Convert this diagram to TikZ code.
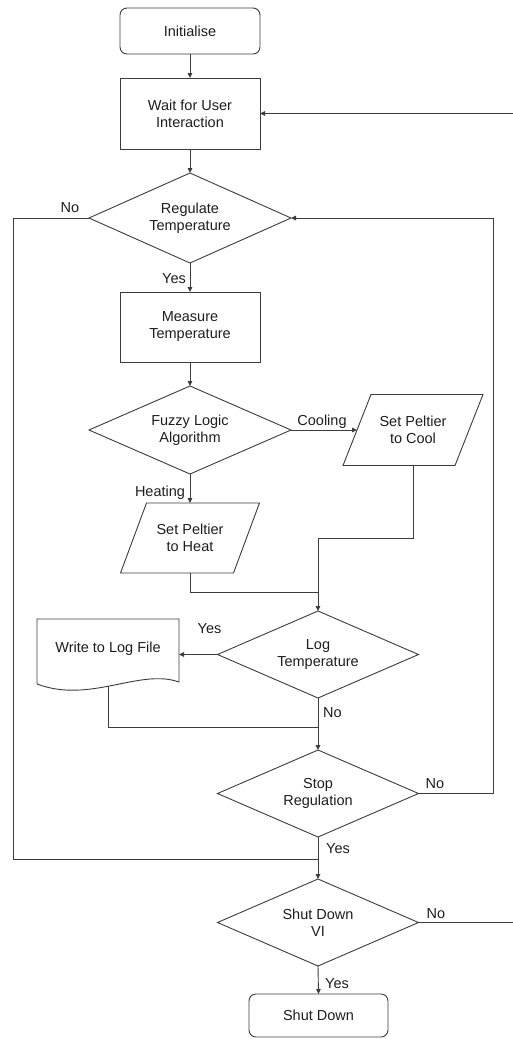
\documentclass[tikz,border=0pt]{standalone}
\usepackage{fontspec}
\setmainfont{Liberation Sans}
\usetikzlibrary{shapes.geometric,arrows.meta,calc}
\definecolor{ln}{HTML}{3C3C3C}
\definecolor{txt}{HTML}{1E1E1E}
\begin{document}
\begin{tikzpicture}[x=1pt,y=-1pt,
  every node/.style={font=\fontsize{14.5}{17}\selectfont, text=txt},
  line/.style={draw=ln, line width=0.9pt},
  arr/.style={line, -{Triangle[length=5pt,width=4.5pt]}},
  proc/.style={line, rectangle, minimum width=140pt, inner sep=0pt, outer sep=0pt, align=center},
  term/.style={proc, rounded corners=7pt},
  decide/.style={line, diamond, aspect=2.3, minimum width=202pt, minimum height=88pt,
                 inner sep=0pt, outer sep=0pt, align=center},
  io/.style={rectangle, inner sep=0pt, outer sep=0pt, align=center},
  lbl/.style={inner sep=0pt, text height=10.4pt, text depth=0pt}
]
\fill[white] (0,0) rectangle (512,1039);
\useasboundingbox (0,0) rectangle (512,1039);

% main column
\node[term, minimum height=46pt] (init) at (190,31) {Initialise};
\node[proc, minimum height=71pt] (wait) at (190,113.5) {Wait for User\\Interaction};
\node[decide, minimum height=90pt] (reg) at (190,218) {Regulate\\Temperature};
\node[proc, minimum height=70pt] (meas) at (190,327) {Measure\\Temperature};
\node[decide] (fuzzy) at (190,430) {Fuzzy Logic\\Algorithm};

% peltier outputs (parallelograms drawn around the text nodes)
\node[io, minimum width=112pt, minimum height=71pt] (cool) at (413,430) {Set Peltier\\to Cool};
\node[io, minimum width=113pt, minimum height=70pt] (heat) at (190,538) {Set Peltier\\to Heat};
\draw[line] ($(cool.south west)+(-14,0)$) -- ($(cool.south east)+(-14,0)$)
  -- ($(cool.north east)+(14,0)$) -- ($(cool.north west)+(14,0)$) -- cycle;
\draw[line] ($(heat.south west)+(-13,0)$) -- ($(heat.south east)+(-13,0)$)
  -- ($(heat.north east)+(13,0)$) -- ($(heat.north west)+(13,0)$) -- cycle;

% logging
\node[decide, minimum width=201pt, minimum height=87pt] (logt) at (318,654.5) {Log\\Temperature};
\node[io, minimum width=142pt, minimum height=67pt, text height=10pt, text depth=10pt]
  (wfile) at (108,652.5) {Write to Log File};
\draw[line] ($(wfile.south west)+(0,-2)$) -- (wfile.north west) -- (wfile.north east)
  -- ($(wfile.south east)+(0,-4)$)
  .. controls ($(wfile.south east)+(-39,-18)$) and ($(wfile.south west)+(53,18)$)
  .. ($(wfile.south west)+(0,-2)$);

% end of loop and shutdown
\node[decide, minimum width=201pt, minimum height=87pt] (stop) at (318,793.5) {Stop\\Regulation};
\node[decide, minimum width=201pt, minimum height=87pt] (sdv) at (318,922.5) {Shut Down\\VI};
\node[term, minimum width=139pt, minimum height=43pt] (shut) at (318.5,1015.5) {Shut Down};

% routing points
\coordinate (cj) at (318,538);
\coordinate (hj) at (318,592);
\coordinate (wj) at (318,727);
\coordinate (lj) at (318,859);
\coordinate (lc) at (13,859);
\coordinate (rc) at (493,218);
\coordinate (oc) at (516,113.5);

% connectors
\draw[arr] (init.south) -- (wait.north);
\draw[arr] (wait.south) -- (reg.north);
\draw[arr] (reg.south) -- (meas.north);
\draw[arr] (meas.south) -- (fuzzy.north);
\draw[arr] (fuzzy.east) -- (cool.west);
\draw[arr] (fuzzy.south) -- (heat.north);
\draw[arr] (cool.south) |- (cj) -- (logt.north);
\draw[line] (heat.south) |- (hj);
\draw[arr] (logt.west) -- (logt.west -| wfile.east);
\draw[line] (wfile.south) |- (wj);
\draw[arr] (logt.south) -- (stop.north);
\draw[line] (reg.west) -| (lc) -- (lj);
\draw[arr] (stop.south) -- (sdv.north);
\draw[arr] (stop.east) -| (rc) -- (reg.east);
\draw[arr] (sdv.east) -| (oc) -- (wait.east);
\draw[arr] (sdv.south) -- (shut.north);

% branch labels
\node[lbl] (lno1) at (70,207) {No};
\node[lbl] (lyes1) at (174,278) {Yes};
\node[lbl] (lcool) at (322,420) {Cooling};
\node[lbl] (lheat) at (160,491) {Heating};
\node[lbl] (lyes2) at (209.5,628) {Yes};
\node[lbl] (lno2) at (332.5,712) {No};
\node[lbl] (lno3) at (435,783) {No};
\node[lbl] (lyes3) at (338,848) {Yes};
\node[lbl] (lno4) at (436,913) {No};
\node[lbl] (lyes4) at (337,983) {Yes};
\end{tikzpicture}
\end{document}
